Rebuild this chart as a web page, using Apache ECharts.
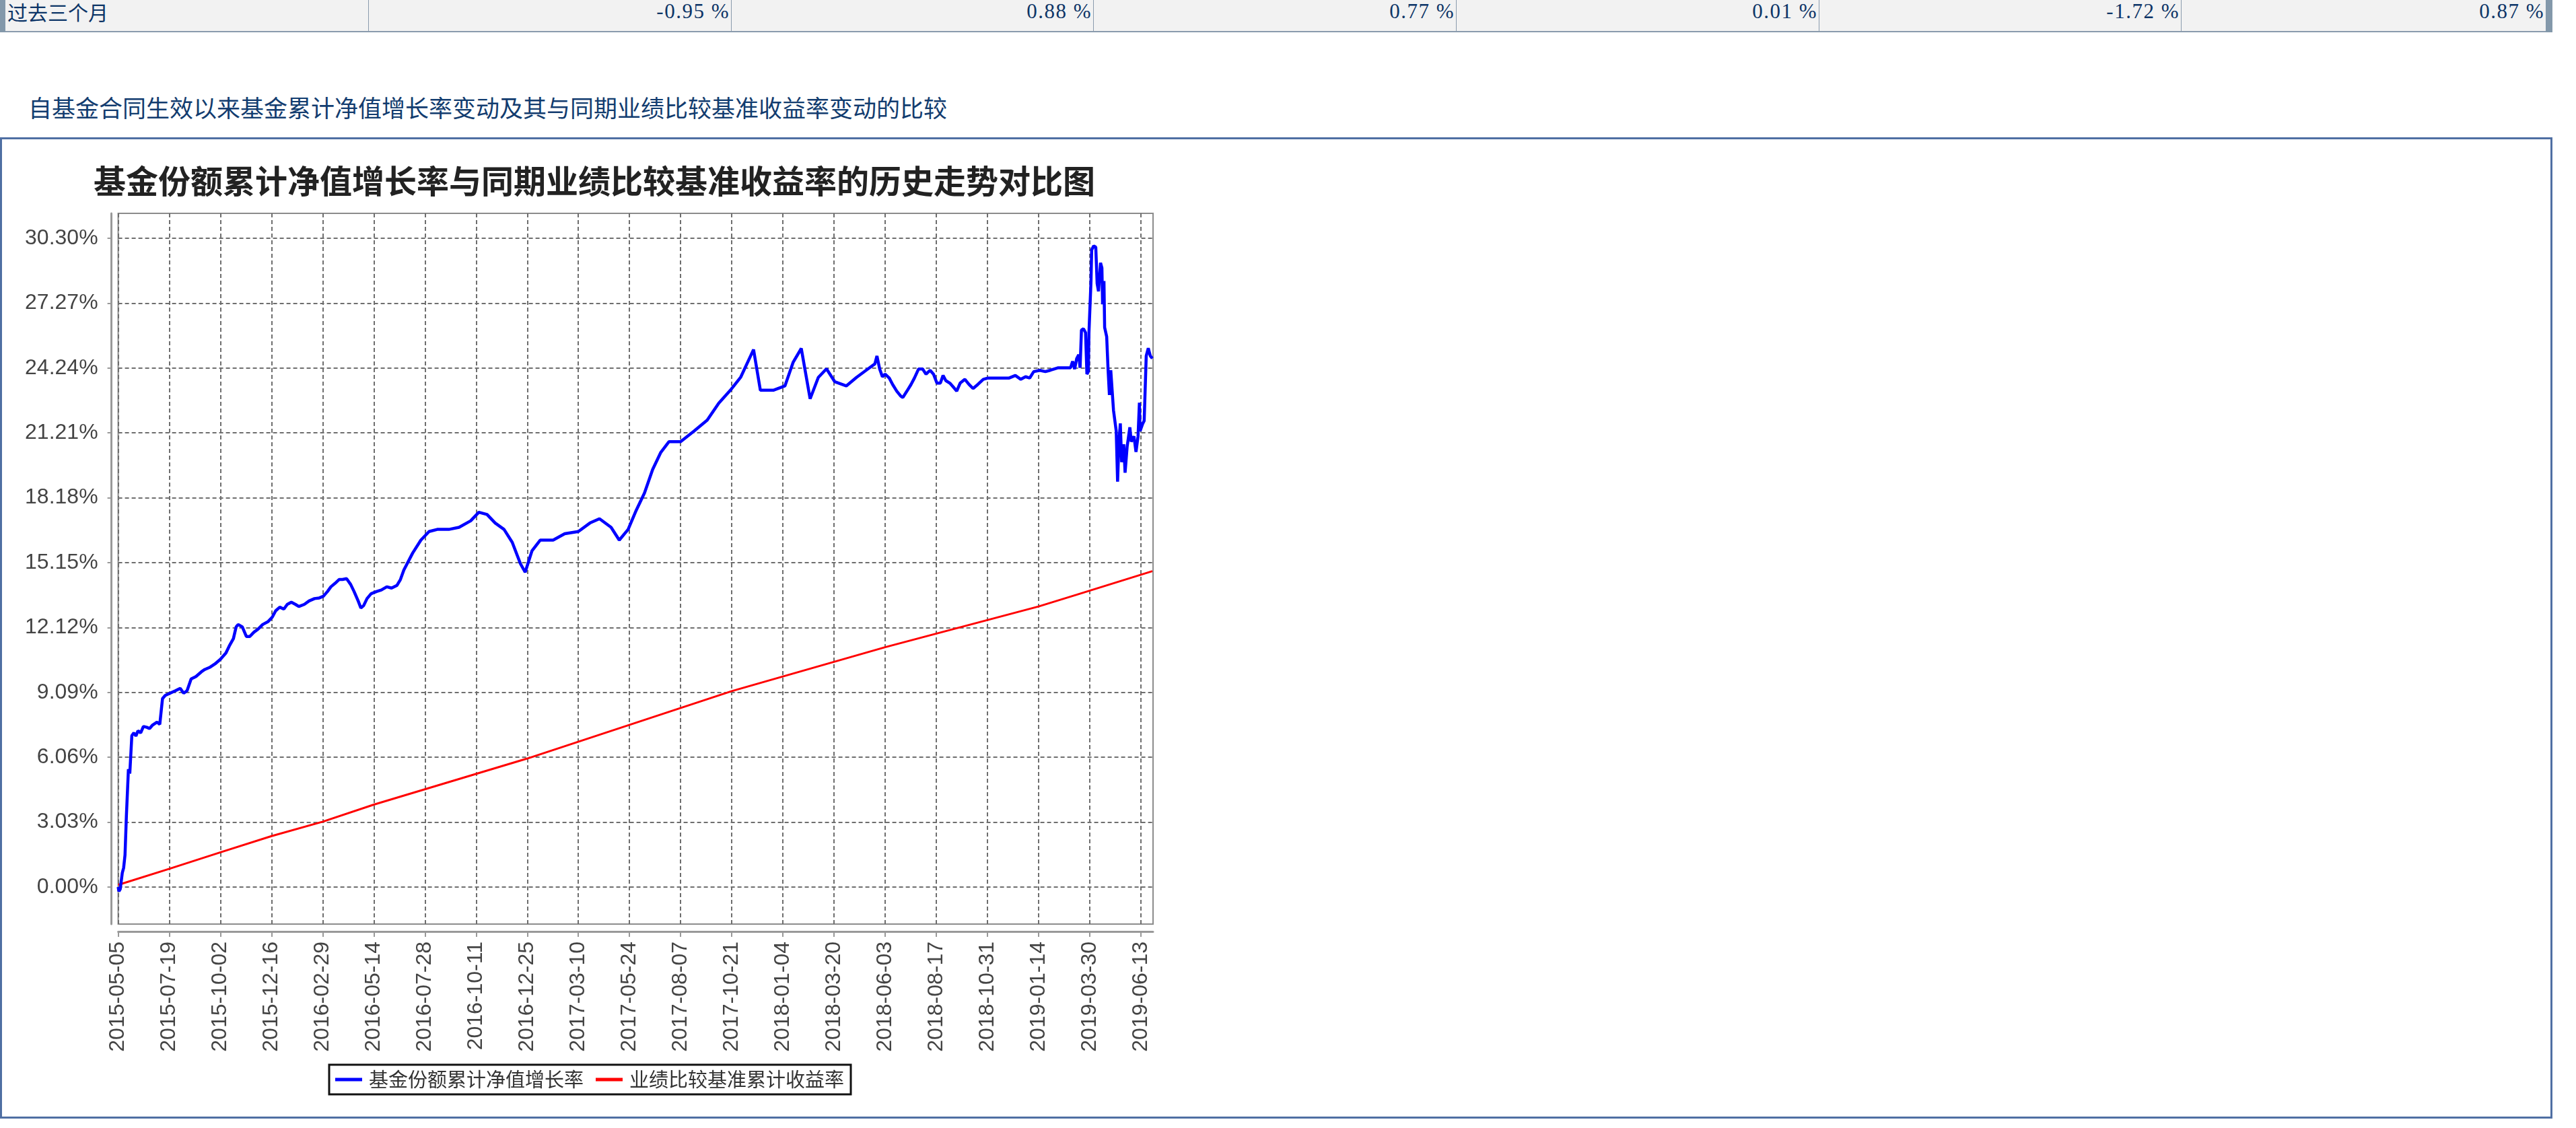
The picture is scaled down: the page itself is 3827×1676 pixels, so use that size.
<!DOCTYPE html>
<html>
<head>
<meta charset="utf-8">
<script src="https://cdn.jsdelivr.net/npm/echarts@6.0.0/dist/echarts.min.js"></script>
<style>
html,body{margin:0;padding:0;background:#fff;width:3827px;height:1676px;overflow:hidden;}
#row{position:absolute;left:0;top:0;width:3792px;height:46px;background:#f2f2f2;border-bottom:2px solid #8a9bad;}
.bar{position:absolute;top:0;height:48px;background:#8398aa;}
.sep{position:absolute;top:0;width:1px;height:46px;background:#8a9bad;}
.cell{position:absolute;top:0;height:34px;line-height:34px;color:#0d3567;white-space:nowrap;}
.lab{font-family:"Noto Sans CJK SC";font-size:30px;}
.num{font-family:"Liberation Serif";font-size:31px;letter-spacing:1.5px;text-align:right;}
#heading{position:absolute;left:42px;top:139px;line-height:40px;font-size:35px;font-family:"Noto Sans CJK SC";color:#123c6f;white-space:nowrap;}
#box{position:absolute;left:0;top:204px;width:3792px;height:1458px;box-sizing:border-box;border:3px solid #4f6fa3;}
#chart{position:absolute;left:0;top:0;width:3827px;height:1676px;}
</style>
</head>
<body>
<div id="row"></div>
<div id="heading"></div>
<div id="box"></div>
<div id="chart"></div>
<script>
// ---- table row ----
const rowLabel = '过去三个月';
const rowValues = ['-0.95 %', '0.88 %', '0.77 %', '0.01 %', '-1.72 %', '0.87 %'];
const headingText = '自基金合同生效以来基金累计净值增长率变动及其与同期业绩比较基准收益率变动的比较';
const chartTitle = '基金份额累计净值增长率与同期业绩比较基准收益率的历史走势对比图';
const navName = '基金份额累计净值增长率';
const benchName = '业绩比较基准累计收益率';

// ---- axis ticks ----
const xTickLabels = ['2015-05-05','2015-07-19','2015-10-02','2015-12-16','2016-02-29','2016-05-14','2016-07-28',
  '2016-10-11','2016-12-25','2017-03-10','2017-05-24','2017-08-07','2017-10-21','2018-01-04','2018-03-20',
  '2018-06-03','2018-08-17','2018-10-31','2019-01-14','2019-03-30','2019-06-13'];
const yTickValues = [0, 3.03, 6.06, 9.09, 12.12, 15.15, 18.18, 21.21, 24.24, 27.27, 30.30];

// ---- fund cumulative NAV growth (%) ----
const navDates = [
 '2015-05-05','2015-05-06','2015-05-08','2015-05-11','2015-05-13','2015-05-15','2015-05-17','2015-05-20','2015-05-22','2015-05-25',
 '2015-05-28','2015-05-31','2015-06-03','2015-06-07','2015-06-11','2015-06-16','2015-06-20','2015-06-24','2015-07-01','2015-07-05',
 '2015-07-09','2015-07-13','2015-07-20','2015-07-28','2015-08-04','2015-08-09','2015-08-14','2015-08-20','2015-08-27','2015-09-04',
 '2015-09-09','2015-09-17','2015-09-24','2015-10-02','2015-10-10','2015-10-15','2015-10-21','2015-10-25','2015-10-28','2015-11-03',
 '2015-11-09','2015-11-14','2015-11-20','2015-11-26','2015-12-03','2015-12-11','2015-12-17','2015-12-22','2015-12-28','2016-01-03',
 '2016-01-08','2016-01-14','2016-01-20','2016-01-25','2016-02-02','2016-02-09','2016-02-17','2016-02-24','2016-03-01','2016-03-07',
 '2016-03-12','2016-03-18','2016-03-24','2016-03-29','2016-04-04','2016-04-10','2016-04-15','2016-04-21','2016-04-25','2016-04-29',
 '2016-05-04','2016-05-10','2016-05-18','2016-05-25','2016-06-02','2016-06-09','2016-06-17','2016-06-22','2016-06-27',
 '2016-07-10','2016-07-22','2016-08-03','2016-08-15','2016-09-01','2016-09-16','2016-10-03','2016-10-15','2016-10-27','2016-11-08',
 '2016-11-21','2016-12-03','2016-12-15','2016-12-22','2017-01-01','2017-01-13','2017-02-01','2017-02-18','2017-03-10','2017-03-27',
 '2017-04-10','2017-04-27','2017-05-09','2017-05-22','2017-06-03','2017-06-15','2017-06-27','2017-07-09','2017-07-21','2017-08-07',
 '2017-08-27','2017-09-15','2017-10-02','2017-10-19','2017-11-03','2017-11-22','2017-12-02','2017-12-21','2018-01-07','2018-01-19',
 '2018-01-31','2018-02-13','2018-02-25','2018-03-09','2018-03-21','2018-04-07','2018-04-22','2018-05-09',
 '2018-05-19','2018-05-22','2018-05-26','2018-05-30','2018-06-03','2018-06-09','2018-06-14','2018-06-20','2018-06-26','2018-06-29',
 '2018-07-05','2018-07-11','2018-07-16','2018-07-22','2018-07-28','2018-08-02','2018-08-08','2018-08-13','2018-08-18','2018-08-23',
 '2018-08-27','2018-08-31','2018-09-06','2018-09-11','2018-09-16','2018-09-21','2018-09-28','2018-10-04','2018-10-10','2018-10-17',
 '2018-10-25','2018-11-01','2018-11-16','2018-12-02','2018-12-11','2018-12-19','2018-12-26','2019-01-01','2019-01-07','2019-01-16',
 '2019-01-24','2019-01-31','2019-02-12','2019-02-23','2019-03-02','2019-03-05','2019-03-08','2019-03-11','2019-03-14','2019-03-16',
 '2019-03-18','2019-03-21','2019-03-24','2019-03-26','2019-03-28','2019-03-29','2019-04-01','2019-04-02','2019-04-05','2019-04-08',
 '2019-04-10','2019-04-12','2019-04-15','2019-04-17','2019-04-18','2019-04-20','2019-04-21','2019-04-24','2019-04-26','2019-04-28',
 '2019-04-30','2019-05-04','2019-05-08','2019-05-10','2019-05-12','2019-05-14','2019-05-16','2019-05-19','2019-05-21','2019-05-24',
 '2019-05-28','2019-05-30','2019-06-03','2019-06-06','2019-06-09','2019-06-11','2019-06-12','2019-06-16','2019-06-18','2019-06-21',
 '2019-06-24','2019-06-27','2019-06-30'
];
const navValues = [
 0.00,-0.20,-0.10,0.66,0.90,1.50,3.30,5.50,5.30,7.07,
 7.20,7.05,7.30,7.20,7.50,7.46,7.40,7.55,7.70,7.60,
 8.80,8.95,9.05,9.17,9.28,9.05,9.17,9.72,9.83,10.05,
 10.16,10.27,10.42,10.64,10.93,11.26,11.60,12.15,12.26,12.15,
 11.70,11.70,11.90,12.04,12.26,12.40,12.60,12.90,13.07,12.98,
 13.20,13.30,13.20,13.10,13.20,13.36,13.47,13.50,13.58,13.80,
 14.02,14.18,14.36,14.36,14.40,14.13,13.80,13.36,13.03,13.14,
 13.47,13.70,13.80,13.87,14.02,13.96,14.09,14.36,14.80,
 15.60,16.20,16.60,16.70,16.70,16.80,17.10,17.50,17.40,17.00,
 16.70,16.10,15.10,14.70,15.70,16.20,16.20,16.50,16.60,17.00,
 17.20,16.80,16.20,16.70,17.60,18.40,19.50,20.30,20.80,20.80,
 21.30,21.80,22.60,23.20,23.80,25.10,23.20,23.20,23.40,24.50,
 25.15,22.80,23.80,24.20,23.60,23.40,23.80,24.20,
 24.43,24.80,24.19,23.83,23.95,23.77,23.47,23.16,22.92,22.86,
 23.16,23.47,23.77,24.19,24.19,23.95,24.13,23.95,23.53,23.53,
 23.89,23.65,23.53,23.35,23.16,23.53,23.71,23.47,23.28,23.47,
 23.71,23.77,23.77,23.77,23.89,23.71,23.83,23.77,24.07,24.13,
 24.07,24.13,24.25,24.25,24.25,24.55,24.19,24.68,24.86,24.25,
 26.01,26.07,25.89,23.95,24.07,25.89,28.30,29.76,29.94,29.88,
 28.18,27.82,29.15,28.91,27.21,28.30,26.13,25.70,24.19,22.98,
 24.13,22.26,21.29,18.93,20.80,21.65,19.84,20.68,19.35,20.56,
 21.47,20.80,21.05,20.32,21.05,22.62,21.29,21.65,21.77,24.80,
 25.16,24.80,24.68
];

// ---- benchmark cumulative return (%) ----
const benchDates = ['2015-05-05','2015-07-19','2015-10-02','2015-12-16','2016-02-29','2016-05-14','2016-12-25',
  '2017-10-21','2018-06-03','2019-01-14','2019-03-11','2019-06-30'];
const benchValues = [0.10, 0.85, 1.62, 2.38, 3.05, 3.85, 6.00, 9.15, 11.20, 13.10, 13.65, 14.75];

const axisMinDate = '2015-05-05';
const axisMaxDate = '2019-07-01';
const yMin = -1.73, yMax = 31.46;

// ---- build HTML row ----
(function(){
  const row = document.getElementById('row');
  const seps = [547, 1086, 1624, 2163, 2702, 3240, 3782];
  let h = '<div class="bar" style="left:0;width:8px"></div><div class="bar" style="left:3782px;width:10px"></div>';
  h += '<div class="cell lab" style="left:11px">' + rowLabel + '</div>';
  for (let i = 0; i < 6; i++) h += '<div class="sep" style="left:' + seps[i] + 'px"></div>';
  rowValues.forEach((v, i) => {
    h += '<div class="cell num" style="left:' + (seps[i] + 1) + 'px;width:' + (seps[i + 1] - seps[i] - 3) + 'px">' + v + '</div>';
  });
  row.innerHTML = h;
  document.getElementById('heading').textContent = headingText;
})();

const ts = s => Date.parse(s + 'T00:00:00Z');
function fmtDate(v) {
  const d = new Date(v);
  const p = n => (n < 10 ? '0' : '') + n;
  return d.getUTCFullYear() + '-' + p(d.getUTCMonth() + 1) + '-' + p(d.getUTCDate());
}

const chart = echarts.init(document.getElementById('chart'), null, {renderer: 'canvas'});
const gridLine = {show: true, lineStyle: {color: '#6e6e6e', width: 2, type: [6, 4]}};
const axisFont = {fontFamily: 'Liberation Sans', fontSize: 32, color: '#444'};
const xTicks = xTickLabels.map(ts);

chart.setOption({
  animation: false,
  backgroundColor: 'transparent',
  title: {
    text: chartTitle, left: 134, top: 236,
    textStyle: {fontFamily: 'Noto Sans CJK SC', fontSize: 48, fontWeight: 'bold', color: '#222', lineHeight: 56}
  },
  legend: {
    left: 489, top: 1582, icon: 'rect', itemWidth: 40, itemHeight: 5, itemGap: 18,
    padding: [7, 10, 7, 9], borderColor: '#111', borderWidth: 3, backgroundColor: '#fff',
    textStyle: {fontFamily: 'Noto Sans CJK SC', fontSize: 29, color: '#333', lineHeight: 30, padding: [0, 0, 0, 5]},
    data: [navName, benchName]
  },
  grid: {left: 175.6, top: 317, width: 1537.4, height: 1056, show: true, borderColor: '#8c8c8c', borderWidth: 2, containLabel: false},
  xAxis: {
    type: 'value', min: ts(axisMinDate), max: ts(axisMaxDate), offset: 11, scale: true,
    axisLine: {show: true, onZero: false, lineStyle: {color: '#999', width: 3}},
    axisTick: {show: true, length: 8, lineStyle: {color: '#999', width: 2}, customValues: xTicks},
    axisLabel: Object.assign({rotate: 90, margin: 15, customValues: xTicks, formatter: v => fmtDate(v)}, axisFont),
    splitLine: gridLine
  },
  yAxis: {
    type: 'value', min: yMin, max: yMax, offset: 10,
    axisLine: {show: true, onZero: false, lineStyle: {color: '#999', width: 3}},
    axisTick: {show: true, length: 6, lineStyle: {color: '#999', width: 2}, customValues: yTickValues},
    axisLabel: Object.assign({margin: 20, customValues: yTickValues, formatter: v => v.toFixed(2) + '%'}, axisFont),
    splitLine: gridLine
  },
  series: [
    {name: navName, type: 'line', showSymbol: false, z: 3,
     data: navDates.map((d, i) => [ts(d), navValues[i]]),
     lineStyle: {color: '#0000ff', width: 4.5}, itemStyle: {color: '#0000ff'}},
    {name: benchName, type: 'line', showSymbol: false, z: 2,
     data: benchDates.map((d, i) => [ts(d), benchValues[i]]),
     lineStyle: {color: '#ff0000', width: 3}, itemStyle: {color: '#ff0000'}}
  ]
});
</script>
</body>
</html>
